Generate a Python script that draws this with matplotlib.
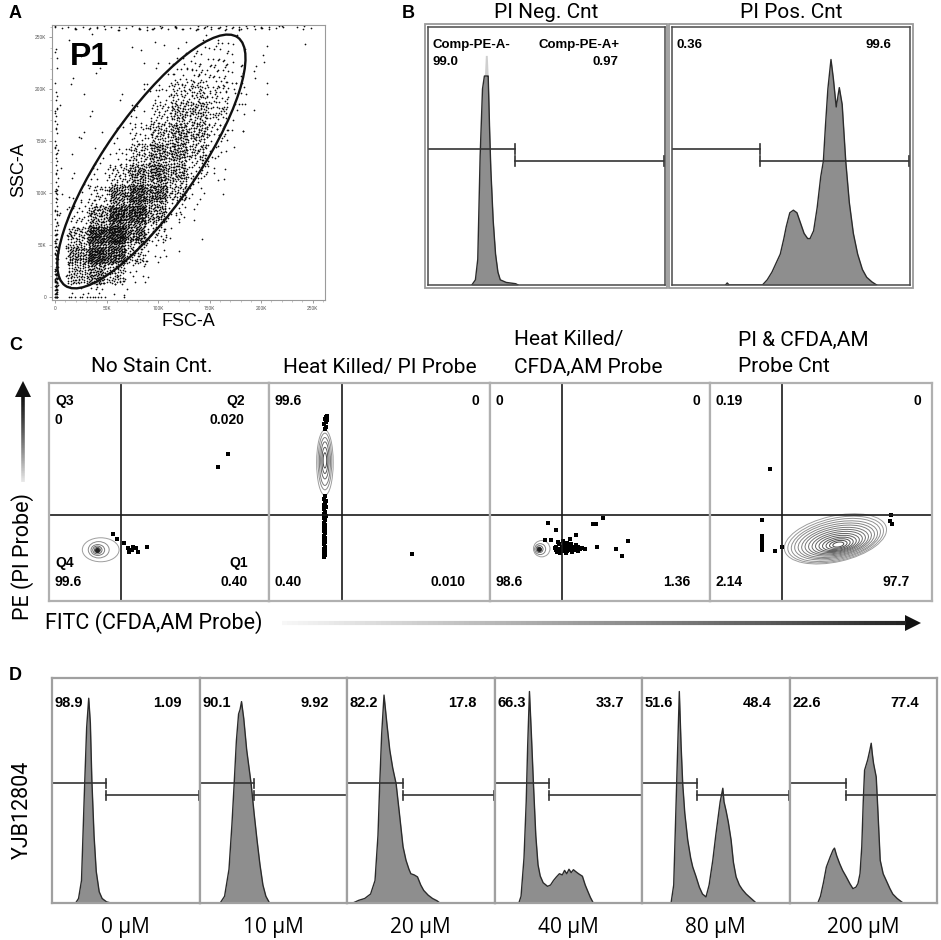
import numpy as np
import matplotlib
matplotlib.use('Agg')
import matplotlib.pyplot as plt
from matplotlib.patches import Ellipse, Polygon, Rectangle
from matplotlib.collections import LineCollection

plt.rcParams['font.family'] = ['Roboto', 'DejaVu Sans']
NUMF = ['Liberation Sans Narrow', 'Liberation Sans', 'DejaVu Sans']
BOLDF = ['Liberation Sans', 'DejaVu Sans']

# ---------------- Panel A data (FSC-A vs SSC-A) ----------------
a_ticks = [0, 50000, 100000, 150000, 200000, 250000]
a_tick_labels = ['0', '50K', '100K', '150K', '200K', '250K']
a_cell = 20000
# event counts per 20K x 20K cell, rows = SSC bins (bottom -> top), cols = FSC bins
a_counts = [
    [6, 30, 12, 2, 0, 0, 0, 0, 0, 0, 0, 0, 0],
    [15, 200, 170, 25, 3, 0, 0, 0, 0, 0, 0, 0, 0],
    [10, 170, 380, 140, 20, 3, 0, 0, 0, 0, 0, 0, 0],
    [6, 50, 230, 300, 80, 10, 1, 0, 0, 0, 0, 0, 0],
    [4, 12, 70, 240, 200, 45, 6, 1, 0, 0, 0, 0, 0],
    [3, 4, 20, 90, 190, 120, 25, 3, 0, 0, 0, 0, 0],
    [2, 2, 6, 28, 110, 150, 60, 10, 1, 0, 0, 0, 0],
    [2, 1, 3, 8, 45, 130, 120, 30, 3, 0, 0, 0, 0],
    [2, 1, 2, 3, 14, 65, 110, 50, 8, 1, 0, 0, 0],
    [1, 1, 1, 2, 4, 28, 70, 50, 15, 2, 0, 0, 0],
    [1, 1, 1, 1, 2, 8, 25, 30, 15, 3, 1, 0, 0],
    [1, 1, 0, 1, 1, 3, 10, 15, 10, 3, 1, 1, 0],
    [1, 1, 1, 1, 1, 1, 3, 5, 4, 2, 1, 0, 0],
]
a_edge_counts = [40, 25, 15, 10, 8, 8, 6, 6, 5, 5, 2, 1, 1]   # events piled at FSC ~ 0
a_top_counts = [6, 5, 5, 6, 6, 5, 6, 7, 8, 6, 5, 3, 2]      # events piled at SSC max
gate_center = (93500, 130500)
gate_width = 292000
gate_height = 89000
gate_angle = 55

# ---------------- Panel B data ----------------
b_titles = ['PI Neg. Cnt', 'PI Pos. Cnt']
b_neg_x = [0.185, 0.20, 0.21, 0.22, 0.23, 0.238, 0.242, 0.25, 0.254, 0.26, 0.265, 0.275,
           0.285, 0.295, 0.305, 0.33, 0.37, 0.38]
b_neg_y = [0, 0.02, 0.1, 0.5, 0.76, 0.81, 0.89, 0.89, 0.81, 0.6, 0.45, 0.25,
           0.12, 0.05, 0.02, 0.01, 0.005, 0]
b_pos_x = [0.225, 0.232, 0.24, 0.38, 0.40, 0.42, 0.44, 0.455, 0.47, 0.48, 0.495, 0.51,
           0.525, 0.54, 0.555, 0.57, 0.58, 0.595, 0.61, 0.625, 0.636, 0.645, 0.655,
           0.668, 0.678, 0.69, 0.703, 0.715, 0.73, 0.745, 0.762, 0.78, 0.80, 0.818,
           0.84, 0.86]
b_pos_y = [0, 0.008, 0, 0, 0.02, 0.05, 0.09, 0.12, 0.18, 0.226, 0.28, 0.29,
           0.28, 0.24, 0.2, 0.18, 0.18, 0.21, 0.3, 0.42, 0.48, 0.62, 0.76,
           0.874, 0.8, 0.69, 0.765, 0.7, 0.48, 0.32, 0.2, 0.12, 0.06, 0.03,
           0.012, 0]
b_gate = [0.368, 0.368]
b_left_labels = [('Comp-PE-A-', '99.0'), ('0.36', '')]
b_right_labels = [('Comp-PE-A+', '0.97'), ('99.6', '')]

# ---------------- Panel C data ----------------
c_titles = ['No Stain Cnt.', 'Heat Killed/ PI Probe', 'Heat Killed/\nCFDA,AM Probe',
            'PI & CFDA,AM\nProbe Cnt']
c_top_left = [('Q3', '0'), ('99.6', ''), ('0', ''), ('0.19', '')]
c_top_right = [('Q2', '0.020'), ('0', ''), ('0', ''), ('0', '')]
c_bottom_left = [('Q4', '99.6'), ('', '0.40'), ('', '98.6'), ('', '2.14')]
c_bottom_right = [('Q1', '0.40'), ('', '0.010'), ('', '1.36'), ('', '97.7')]
c_vline = [0.327, 0.33, 0.327, 0.324]
c_hline = 0.394
c1_rings = [(0.235, 0.235, 0.167, 0.11, 0), (0.226, 0.235, 0.095, 0.075, 0),
            (0.222, 0.234, 0.062, 0.05, 0), (0.220, 0.234, 0.042, 0.036, 0),
            (0.220, 0.234, 0.027, 0.024, 0), (0.220, 0.234, 0.014, 0.013, 0)]
c1_dots = [(0.292, 0.307), (0.307, 0.283), (0.341, 0.265), (0.361, 0.242), (0.365, 0.227),
           (0.383, 0.25), (0.395, 0.242), (0.406, 0.227), (0.447, 0.247), (0.376, 0.235),
           (0.37, 0.232), (0.815, 0.674), (0.77, 0.613)]
c2_rings = [(0.253, 0.635, 0.075, 0.30, 0), (0.253, 0.64, 0.062, 0.26, 0),
            (0.253, 0.64, 0.05, 0.22, 0), (0.253, 0.645, 0.038, 0.17, 0),
            (0.253, 0.645, 0.027, 0.12, 0), (0.253, 0.645, 0.016, 0.07, 0)]
c2_dots = [(0.262, 0.85), (0.258, 0.845), (0.252, 0.835), (0.262, 0.83), (0.256, 0.82),
           (0.25, 0.81), (0.258, 0.80), (0.252, 0.79), (0.255, 0.48), (0.25, 0.47),
           (0.258, 0.46), (0.252, 0.45), (0.248, 0.44), (0.256, 0.43), (0.25, 0.42),
           (0.254, 0.41), (0.248, 0.40), (0.256, 0.39), (0.25, 0.38), (0.253, 0.37),
           (0.248, 0.36), (0.255, 0.35), (0.25, 0.34), (0.252, 0.33), (0.249, 0.32),
           (0.254, 0.31), (0.25, 0.30), (0.252, 0.29), (0.248, 0.28), (0.253, 0.27),
           (0.25, 0.26), (0.252, 0.25), (0.249, 0.24), (0.253, 0.23), (0.25, 0.22),
           (0.252, 0.21), (0.25, 0.20), (0.648, 0.216)]
c3_rings = [(0.235, 0.24, 0.075, 0.075, 0), (0.228, 0.238, 0.05, 0.05, 0),
            (0.225, 0.238, 0.032, 0.032, 0), (0.223, 0.238, 0.018, 0.018, 0)]
c3_dots = [(0.249, 0.28), (0.265, 0.359), (0.277, 0.28), (0.298, 0.326), (0.30, 0.25),
           (0.31, 0.24), (0.315, 0.26), (0.32, 0.235), (0.325, 0.25), (0.33, 0.245),
           (0.335, 0.265), (0.34, 0.24), (0.345, 0.255), (0.35, 0.23), (0.355, 0.25),
           (0.36, 0.245), (0.365, 0.26), (0.37, 0.24), (0.375, 0.25), (0.38, 0.235),
           (0.39, 0.245), (0.40, 0.25), (0.41, 0.24), (0.305, 0.225), (0.318, 0.22),
           (0.332, 0.228), (0.346, 0.222), (0.36, 0.232), (0.374, 0.225), (0.388, 0.235),
           (0.40, 0.23), (0.31, 0.27), (0.33, 0.275), (0.35, 0.268), (0.37, 0.262),
           (0.39, 0.258), (0.42, 0.245), (0.43, 0.24), (0.365, 0.285), (0.39, 0.303),
           (0.47, 0.352), (0.48, 0.355), (0.515, 0.379), (0.488, 0.246), (0.571, 0.237),
           (0.60, 0.208), (0.626, 0.277), (0.296, 0.245), (0.30, 0.235), (0.342, 0.25)]
c4_rings = [(0.565, 0.285, 0.47, 0.21, 13), (0.566, 0.282, 0.44, 0.195, 13),
            (0.567, 0.280, 0.41, 0.18, 13), (0.568, 0.278, 0.38, 0.165, 12),
            (0.569, 0.276, 0.35, 0.15, 12), (0.570, 0.274, 0.32, 0.136, 12),
            (0.571, 0.272, 0.29, 0.122, 11), (0.572, 0.270, 0.26, 0.108, 11),
            (0.573, 0.268, 0.23, 0.095, 11), (0.574, 0.266, 0.20, 0.082, 10),
            (0.575, 0.264, 0.17, 0.07, 10), (0.576, 0.262, 0.14, 0.058, 10),
            (0.577, 0.261, 0.11, 0.046, 10), (0.578, 0.260, 0.08, 0.034, 10),
            (0.578, 0.259, 0.05, 0.022, 10)]
c4_dots = [(0.27, 0.605), (0.233, 0.372), (0.233, 0.30), (0.236, 0.29), (0.233, 0.28),
           (0.236, 0.265), (0.233, 0.25), (0.233, 0.235), (0.293, 0.229), (0.324, 0.248),
           (0.814, 0.394), (0.81, 0.365), (0.818, 0.352)]

# ---------------- Panel D data ----------------
d_labels = ['0 µM', '10 µM', '20 µM', '40 µM', '80 µM', '200 µM']
d_left_vals = ['98.9', '90.1', '82.2', '66.3', '51.6', '22.6']
d_right_vals = ['1.09', '9.92', '17.8', '33.7', '48.4', '77.4']
d_gate = [0.367, 0.37, 0.38, 0.372, 0.374, 0.38]
d1_x = [0.16, 0.18, 0.20, 0.22, 0.235, 0.249, 0.26, 0.27, 0.285, 0.30, 0.32, 0.34, 0.37, 0.40]
d1_y = [0, 0.02, 0.1, 0.5, 0.78, 0.91, 0.8, 0.55, 0.3, 0.14, 0.05, 0.02, 0.005, 0]
d2_x = [0.14, 0.17, 0.20, 0.22, 0.235, 0.25, 0.265, 0.275, 0.285, 0.30, 0.32, 0.35, 0.37,
        0.39, 0.41, 0.43, 0.45, 0.475]
d2_y = [0, 0.03, 0.15, 0.35, 0.53, 0.72, 0.84, 0.86, 0.895, 0.82, 0.68, 0.53, 0.4,
        0.28, 0.17, 0.08, 0.03, 0]
d3_x = [0.04, 0.08, 0.12, 0.16, 0.19, 0.21, 0.222, 0.235, 0.251, 0.27, 0.29, 0.31, 0.333,
        0.355, 0.38, 0.40, 0.42, 0.433, 0.455, 0.478, 0.50, 0.52, 0.55, 0.58, 0.61, 0.63]
d3_y = [0, 0.012, 0.02, 0.04, 0.1, 0.3, 0.53, 0.75, 0.924, 0.8, 0.68, 0.6, 0.53,
        0.4, 0.25, 0.19, 0.15, 0.13, 0.125, 0.116, 0.08, 0.056, 0.035, 0.02, 0.01, 0]
d4_x = [0.165, 0.18, 0.20, 0.215, 0.225, 0.237, 0.25, 0.264, 0.28, 0.295, 0.31, 0.33, 0.36,
        0.38, 0.40, 0.42, 0.44, 0.46, 0.475, 0.49, 0.505, 0.52, 0.535, 0.55, 0.57, 0.596,
        0.615, 0.63, 0.65, 0.67]
d4_y = [0, 0.03, 0.2, 0.45, 0.7, 0.94, 0.75, 0.53, 0.3, 0.17, 0.12, 0.09, 0.074,
        0.08, 0.1, 0.116, 0.13, 0.125, 0.145, 0.13, 0.15, 0.135, 0.148, 0.14, 0.13, 0.119,
        0.08, 0.056, 0.025, 0]
d5_x = [0.197, 0.215, 0.235, 0.253, 0.265, 0.276, 0.29, 0.31, 0.33, 0.344, 0.365, 0.389,
        0.41, 0.434, 0.455, 0.48, 0.50, 0.514, 0.53, 0.548, 0.556, 0.57, 0.585, 0.604,
        0.62, 0.638, 0.66, 0.68, 0.706, 0.74, 0.774]
d5_y = [0, 0.08, 0.53, 0.94, 0.7, 0.53, 0.4, 0.28, 0.2, 0.16, 0.12, 0.07,
        0.04, 0.027, 0.08, 0.19, 0.3, 0.37, 0.45, 0.51, 0.45, 0.41, 0.36, 0.28,
        0.18, 0.116, 0.08, 0.06, 0.04, 0.02, 0]
d6_x = [0.192, 0.21, 0.23, 0.25, 0.276, 0.295, 0.305, 0.32, 0.34, 0.36, 0.385, 0.41, 0.43,
        0.45, 0.464, 0.478, 0.49, 0.50, 0.509, 0.53, 0.545, 0.554, 0.562, 0.57, 0.588,
        0.60, 0.615, 0.635, 0.656, 0.68, 0.70, 0.73, 0.77]
d6_y = [0, 0.03, 0.09, 0.16, 0.205, 0.235, 0.244, 0.21, 0.175, 0.145, 0.116, 0.085, 0.064,
        0.07, 0.086, 0.13, 0.25, 0.45, 0.59, 0.636, 0.68, 0.71, 0.66, 0.62, 0.56,
        0.4, 0.19, 0.13, 0.1, 0.065, 0.04, 0.02, 0]
d_hist_x = [d1_x, d2_x, d3_x, d4_x, d5_x, d6_x]
d_hist_y = [d1_y, d2_y, d3_y, d4_y, d5_y, d6_y]

# ---------------- figure ----------------
W, H = 941, 940
fig = plt.figure(figsize=(W / 100, H / 100), dpi=100)


def px_axes(l, t, r, b):
    return fig.add_axes([l / W, 1 - b / H, (r - l) / W, (b - t) / H])


def unit_box(ax, color, lw):
    ax.set_xlim(0, 1)
    ax.set_ylim(0, 1)
    ax.set_xticks([])
    ax.set_yticks([])
    for s in ax.spines.values():
        s.set_color(color)
        s.set_linewidth(lw)


HIST_FILL = '#8e8e8e'
HIST_EDGE = '#2b2b2b'
GATE_C = '#333333'


def draw_hist(ax, x, y):
    ax.fill_between(x, 0, y, color=HIST_FILL, lw=0)
    ax.plot(x, y, color=HIST_EDGE, lw=1.0)


def draw_gates(ax, g, y1, y2, tick=0.018):
    ax.plot([0, g], [y1, y1], color=GATE_C, lw=1.2)
    ax.plot([g, g], [y1 - tick, y1 + tick], color=GATE_C, lw=1.2)
    ax.plot([g, 1], [y2, y2], color=GATE_C, lw=1.2)
    ax.plot([g, g], [y2 - tick, y2 + tick], color=GATE_C, lw=1.2)
    ax.plot([0.997, 0.997], [y2 - tick, y2 + tick], color=GATE_C, lw=1.2)


# ---- Panel A ----
axA = px_axes(52, 25, 325, 300)
u1, u2 = 0.7548776662466927, 0.5698402909980532
SPREAD = 1.8   # each cell's events are spread a bit over neighbouring cells
xs, ys = [], []
k = 0
for j, row in enumerate(a_counts):
    for i, n in enumerate(row):
        for m in range(n):
            k += 1
            fu = ((0.5 + k * u1) % 1 - 0.5) * SPREAD
            fv = ((0.5 + k * u2) % 1 - 0.5) * SPREAD
            xs.append((i + 0.5 + fu) * a_cell)
            ys.append((j + 0.5 + fv) * a_cell)
for j, n in enumerate(a_edge_counts):
    for m in range(n):
        k += 1
        xs.append(((0.5 + k * u1) % 1) * 2500)
        ys.append((j + 0.5 + ((0.5 + k * u2) % 1 - 0.5) * 1.3) * a_cell)
for i, n in enumerate(a_top_counts):
    for m in range(n):
        k += 1
        xs.append((i + 0.5 + ((0.5 + k * u1) % 1 - 0.5) * 1.3) * a_cell)
        ys.append(257500 + ((0.5 + k * u2) % 1) * 3500)
xs = np.clip(xs, 0, 261000)
ys = np.clip(ys, 0, 261000)
axA.scatter(xs, ys, s=1.5, c='#0d0d0d', marker='o', linewidths=0)
axA.add_patch(Ellipse(gate_center, gate_width, gate_height, angle=gate_angle,
                      fill=False, lw=1.7, ec='#111111'))
axA.set_xlim(-3000, 262000)
axA.set_ylim(-3000, 262000)
axA.set_xticks(a_ticks)
axA.set_xticklabels(a_tick_labels)
axA.set_yticks(a_ticks)
axA.set_yticklabels(a_tick_labels)
axA.set_xticks(np.arange(0, 260001, 10000), minor=True)
axA.set_yticks(np.arange(0, 260001, 10000), minor=True)
axA.tick_params(which='major', length=2.5, width=0.5, color='#777777', labelsize=3.5,
                labelcolor='#555555', pad=1.5)
axA.tick_params(which='minor', length=1.3, width=0.4, color='#999999')
for s in axA.spines.values():
    s.set_color('#9a9a9a')
    s.set_linewidth(0.8)

# ---- Panel B ----
b_boxes = [(428, 27, 665, 285), (672, 27, 910, 285)]
b_outer = [(425, 24, 667, 288), (669, 24, 913, 288)]
for bi, (l, t, r, b) in enumerate(b_boxes):
    ax = px_axes(l, t, r, b)
    unit_box(ax, '#4a4a4a', 1.1)
    if bi == 0:
        yy = np.array(b_neg_y)
        ax.fill_between(b_neg_x, 0, yy, color='#cfcfcf', lw=0)
        ax.fill_between(b_neg_x, 0, np.minimum(yy, 0.81), color=HIST_FILL, lw=0)
        ax.plot(b_neg_x, np.minimum(yy, 0.81), color=HIST_EDGE, lw=1.0)
    else:
        draw_hist(ax, b_pos_x, b_pos_y)
    draw_gates(ax, b_gate[bi], 0.526, 0.48, tick=0.02)
    l1, l2 = b_left_labels[bi]
    r1, r2 = b_right_labels[bi]
    ax.text(0.02, 0.93, l1, fontsize=9.5, fontweight='bold', family=BOLDF, va='center', ha='left')
    ax.text(0.02, 0.865, l2, fontsize=9.5, fontweight='bold', family=BOLDF, va='center', ha='left')
    if bi == 0:
        ax.text(0.466, 0.93, r1, fontsize=9.5, fontweight='bold', family=BOLDF, va='center', ha='left')
        ax.text(0.803, 0.865, r2, fontsize=9.5, fontweight='bold', family=BOLDF, va='center', ha='right')
    else:
        ax.text(0.923, 0.93, r1, fontsize=9.5, fontweight='bold', family=BOLDF, va='center', ha='right')

# ---- Panel C ----
c_boxes = [(49, 383, 269, 601), (269, 383, 490, 601), (490, 383, 710, 601), (710, 383, 932, 601)]
c_rings = [c1_rings, c2_rings, c3_rings, c4_rings]
c_dots = [c1_dots, c2_dots, c3_dots, c4_dots]
c_right_x = [(0.89, 0.905), (0.95, 0.887), (0.955, 0.91), (0.95, 0.90)]
for ci, (l, t, r, b) in enumerate(c_boxes):
    ax = px_axes(l, t, r, b)
    unit_box(ax, '#b0b0b0', 1.6)
    ax.axvline(c_vline[ci], color='#1a1a1a', lw=1.2)
    ax.axhline(c_hline, color='#1a1a1a', lw=1.2)
    rings = c_rings[ci]
    nr = len(rings)
    for ri, (cx, cy, w, h, ang) in enumerate(rings):
        g = 0.62 - 0.35 * ri / max(nr - 1, 1)
        ax.add_patch(Ellipse((cx, cy), w, h, angle=ang, fill=False, lw=0.7,
                             ec=(g, g, g)))
    if ci == 0 or ci == 2:
        cx, cy = rings[-1][0], rings[-1][1]
        ax.plot([cx], [cy], marker='o', ms=2.5, color='#222222')
    dx = [p[0] for p in c_dots[ci]]
    dy = [p[1] for p in c_dots[ci]]
    ax.scatter(dx, dy, s=6, marker='s', c='black', linewidths=0)
    tl1, tl2 = c_top_left[ci]
    tr1, tr2 = c_top_right[ci]
    bl1, bl2 = c_bottom_left[ci]
    br1, br2 = c_bottom_right[ci]
    kw = dict(fontsize=10, fontweight='bold', family=BOLDF, va='center')
    ax.text(0.027, 0.917, tl1, ha='left', **kw)
    ax.text(0.027, 0.83, tl2, ha='left', **kw)
    ax.text(c_right_x[ci][0], 0.917, tr1, ha='right', **kw)
    ax.text(c_right_x[ci][0], 0.83, tr2, ha='right', **kw)
    ax.text(0.027, 0.174, bl1, ha='left', **kw)
    ax.text(0.027, 0.087, bl2, ha='left', **kw)
    ax.text(c_right_x[ci][1], 0.174, br1, ha='right', **kw)
    ax.text(c_right_x[ci][1], 0.087, br2, ha='right', **kw)

# ---- Panel D ----
d_left = 52
d_w = 147.5
for di in range(6):
    l = d_left + di * d_w
    ax = px_axes(l, 678, l + d_w, 903)
    unit_box(ax, '#a0a0a0', 1.6)
    draw_hist(ax, d_hist_x[di], d_hist_y[di])
    draw_gates(ax, d_gate[di], 0.533, 0.48, tick=0.02)
    ax.text(0.02, 0.89, d_left_vals[di], fontsize=10.5, fontweight='bold', family=NUMF,
            ha='left', va='center')
    ax.text(0.88, 0.89, d_right_vals[di], fontsize=10.5, fontweight='bold', family=NUMF,
            ha='right', va='center')

# ---- overlay: labels, titles, arrows ----
ov = fig.add_axes([0, 0, 1, 1])
ov.set_xlim(0, W)
ov.set_ylim(H, 0)
ov.axis('off')
ov.set_zorder(10)

for lab, (x, y) in zip(['A', 'B', 'C', 'D'], [(9, 14), (402, 14), (9, 345), (9, 676)]):
    ov.text(x, y, lab, fontsize=13, fontweight='bold', family=BOLDF, ha='left', va='center')

ov.text(70, 57, 'P1', fontsize=23, fontweight='bold', family=BOLDF, ha='left', va='center')
ov.text(19, 170, 'SSC-A', fontsize=13, family=BOLDF, rotation=90, ha='center', va='center')
ov.text(188, 322, 'FSC-A', fontsize=13, family=BOLDF, ha='center', va='center')

for bi, (l, t, r, b) in enumerate(b_outer):
    ov.add_patch(Rectangle((l, t), r - l, b - t, fill=False, ec='#9a9a9a', lw=1.3))
    ov.text((l + r) / 2, 12, b_titles[bi], fontsize=15, ha='center', va='center')

c_title_pos = [(152, 'center'), (380, 'center'), (514, 'left'), (738, 'left')]
for ci, title in enumerate(c_titles):
    lines = title.split('\n')
    x, ha = c_title_pos[ci]
    for li, line in enumerate(lines):
        y = 367 - (len(lines) - 1 - li) * 27
        ov.text(x, y, line, fontsize=15, ha=ha, va='center')

# vertical gradient arrow
N = 120
yv = np.linspace(482, 396, N + 1)
segs = [[(23, yv[i]), (23, yv[i + 1])] for i in range(N)]
gv = np.linspace(0.93, 0.12, N) ** 1.3
ov.add_collection(LineCollection(segs, colors=[(g, g, g) for g in gv], linewidths=2.6))
ov.add_patch(Polygon([(15, 397), (31, 397), (23, 381)], closed=True, fc='#111111', ec='none'))
ov.text(23, 557, 'PE (PI Probe)', fontsize=15.5, rotation=90, ha='center', va='center')

# horizontal gradient arrow
xh = np.linspace(282, 906, N + 1)
segs = [[(xh[i], 623), (xh[i + 1], 623)] for i in range(N)]
gh = np.linspace(0.96, 0.08, N) ** 0.8
ov.add_collection(LineCollection(segs, colors=[(g, g, g) for g in gh], linewidths=3))
ov.add_patch(Polygon([(905, 615), (905, 631), (921, 623)], closed=True, fc='#111111', ec='none'))
ov.text(45, 623, 'FITC (CFDA,AM Probe)', fontsize=15.5, ha='left', va='center')

ov.text(22, 810, 'YJB12804', fontsize=15.5, rotation=90, ha='center', va='center')
for di, lab in enumerate(d_labels):
    cx = d_left + di * d_w + d_w / 2
    ov.text(cx, 927, lab, fontsize=15, family=['Open Sans', 'DejaVu Sans'],
            ha='center', va='center')

fig.savefig('out.png', dpi=100)
